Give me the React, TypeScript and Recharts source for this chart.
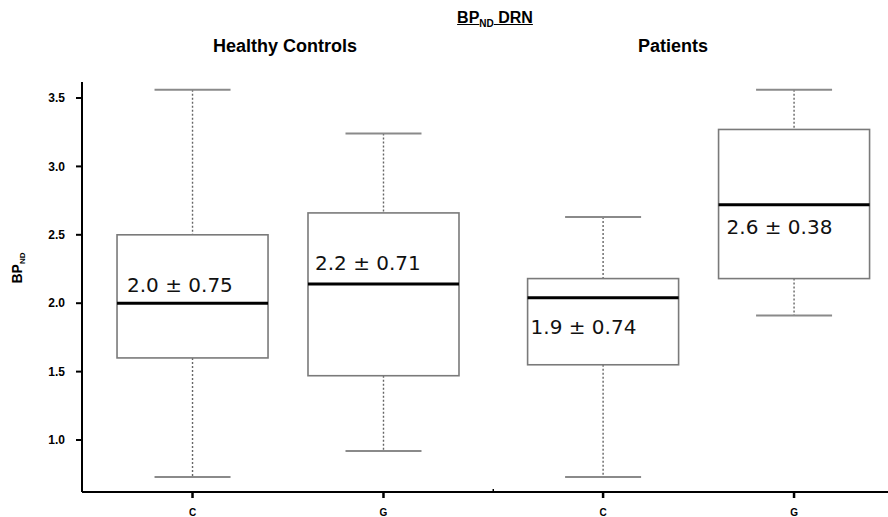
import React from "react";
import { ComposedChart, Bar, XAxis, YAxis } from "recharts";

// ---- data ----
const groupNames = ["Healthy Controls", "Patients"];
const boxGroup = [0, 0, 1, 1];
const boxCondition = ["C", "G", "C", "G"];
const whiskerLow = [0.73, 0.92, 0.73, 1.91];
const quartile1 = [1.6, 1.47, 1.55, 2.18];
const medians = [2.0, 2.14, 2.04, 2.72];
const quartile3 = [2.5, 2.66, 2.18, 3.27];
const whiskerHigh = [3.56, 3.24, 2.63, 3.56];
const meanSdLabels = ["2.0 ± 0.75", "2.2 ± 0.71", "1.9 ± 0.74", "2.6 ± 0.38"];
const yTicks = [1.0, 1.5, 2.0, 2.5, 3.0, 3.5];

// ---- layout constants ----
const GROUP_STRIDE = 2.15;
const LABEL_OFFSETS: [number, number][] = [
  [10, -11],
  [7, -14],
  [3, 36],
  [8, 29],
];
const BOX_WIDTH = 151;
const CAP_WIDTH = 76;

const positions = boxGroup.map(
  (g, i) => 1 + g * GROUP_STRIDE + boxGroup.slice(0, i).filter((v) => v === g).length
);
const dividers: number[] = [];
for (let i = 1; i < boxGroup.length; i++) {
  if (boxGroup[i] !== boxGroup[i - 1]) dividers.push((positions[i] + positions[i - 1]) / 2);
}
const xTicks = [...positions, ...dividers].sort((a, b) => a - b);

const data = positions.map((x, i) => ({
  x,
  idx: i,
  range: [whiskerLow[i], whiskerHigh[i]],
  low: whiskerLow[i],
  q1: quartile1[i],
  med: medians[i],
  q3: quartile3[i],
  high: whiskerHigh[i],
  label: meanSdLabels[i],
}));

const BoxShape = (props: any) => {
  const { x, y, width, height, payload } = props;
  if (!payload) return null;
  const top = Math.min(y, y + height);
  const h = Math.abs(height);
  const ppu = h / (payload.high - payload.low);
  const toY = (v: number) => top + (payload.high - v) * ppu;
  const cx = x + width / 2;
  const bl = cx - BOX_WIDTH / 2;
  const yHigh = toY(payload.high);
  const yLow = toY(payload.low);
  const yQ3 = toY(payload.q3);
  const yQ1 = toY(payload.q1);
  const yMed = toY(payload.med);
  const [dx, dy] = LABEL_OFFSETS[payload.idx] || [8, -12];
  return (
    <g>
      <line x1={cx} x2={cx} y1={yHigh} y2={yQ3} stroke="#666" strokeWidth={1.4} strokeDasharray="2 2" />
      <line x1={cx} x2={cx} y1={yQ1} y2={yLow} stroke="#666" strokeWidth={1.4} strokeDasharray="2 2" />
      <line x1={cx - CAP_WIDTH / 2} x2={cx + CAP_WIDTH / 2} y1={yHigh} y2={yHigh} stroke="#8a8a8a" strokeWidth={2} />
      <line x1={cx - CAP_WIDTH / 2} x2={cx + CAP_WIDTH / 2} y1={yLow} y2={yLow} stroke="#8a8a8a" strokeWidth={2} />
      <rect x={bl} y={yQ3} width={BOX_WIDTH} height={yQ1 - yQ3} fill="#fff" stroke="#7a7a7a" strokeWidth={1.6} />
      <line x1={bl} x2={bl + BOX_WIDTH} y1={yMed} y2={yMed} stroke="#000" strokeWidth={3} />
      <text
        x={bl + dx}
        y={yMed + dy}
        fontFamily="DejaVu Sans, Verdana, sans-serif"
        fontSize={20}
        fill="#111"
      >
        {payload.label}
      </text>
    </g>
  );
};

const XTick = (props: any) => {
  const { x, y, payload } = props;
  const v = payload.value;
  const pi = positions.findIndex((p) => Math.abs(p - v) < 1e-6);
  if (pi < 0) {
    return <line x1={x} x2={x} y1={y} y2={y - 3} stroke="#000" strokeWidth={1.5} />;
  }
  return (
    <g>
      <line x1={x} x2={x} y1={y} y2={y + 6} stroke="#000" strokeWidth={2.5} />
      <text
        x={x}
        y={y + 24}
        textAnchor="middle"
        fontFamily="Liberation Sans, Arial, sans-serif"
        fontWeight="bold"
        fontSize={10}
        fill="#000"
      >
        {boxCondition[pi]}
      </text>
    </g>
  );
};

const headingStyle: React.CSSProperties = {
  position: "absolute",
  fontFamily: "Liberation Sans Narrow, Liberation Sans, Arial, sans-serif",
  fontWeight: "bold",
  fontSize: 18,
  lineHeight: "20px",
  whiteSpace: "nowrap",
  transform: "translateX(-50%)",
  color: "#000",
};

export default function App() {
  return (
    <div style={{ position: "relative", width: 888, height: 517, background: "#fff" }}>
      <style>{"body{margin:0}"}</style>
      <ComposedChart
        width={888}
        height={517}
        data={data}
        margin={{ top: 82, right: 0, left: 8, bottom: 0 }}
      >
        <XAxis
          dataKey="x"
          type="number"
          domain={[0.4213, 4.642]}
          ticks={xTicks}
          interval={0}
          allowDataOverflow
          height={25}
          tickSize={0}
          tickMargin={0}
          tickLine={false}
          tick={<XTick />}
          axisLine={{ stroke: "#000", strokeWidth: 2 }}
        />
        <YAxis
          type="number"
          domain={[0.62, 3.617]}
          ticks={yTicks}
          allowDataOverflow
          width={74}
          tickSize={6}
          tickMargin={11}
          tickFormatter={(v: number) => v.toFixed(1)}
          tick={{ fontFamily: "Liberation Sans, Arial, sans-serif", fontWeight: "bold", fontSize: 12, fill: "#000" }}
          tickLine={{ stroke: "#000", strokeWidth: 2 }}
          axisLine={{ stroke: "#000", strokeWidth: 2 }}
        />
        <Bar dataKey="range" barSize={BOX_WIDTH} shape={<BoxShape />} isAnimationActive={false} />
      </ComposedChart>

      <div
        style={{
          ...headingStyle,
          left: 495,
          top: 8,
          fontSize: 16,
          textDecoration: "underline",
          fontFamily: "Liberation Sans, Arial, sans-serif",
        }}
      >
        BP<sub style={{ fontSize: 10 }}>ND</sub> DRN
      </div>
      <div style={{ ...headingStyle, left: 285, top: 36 }}>{groupNames[0]}</div>
      <div style={{ ...headingStyle, left: 673, top: 36 }}>{groupNames[1]}</div>
      <div
        style={{
          position: "absolute",
          left: 20,
          top: 268,
          transform: "translate(-50%, -50%) rotate(-90deg)",
          fontFamily: "Liberation Sans, Arial, sans-serif",
          fontWeight: "bold",
          fontSize: 14,
          whiteSpace: "nowrap",
          lineHeight: "16px",
        }}
      >
        BP<sub style={{ fontSize: 8 }}>ND</sub>
      </div>
    </div>
  );
}
